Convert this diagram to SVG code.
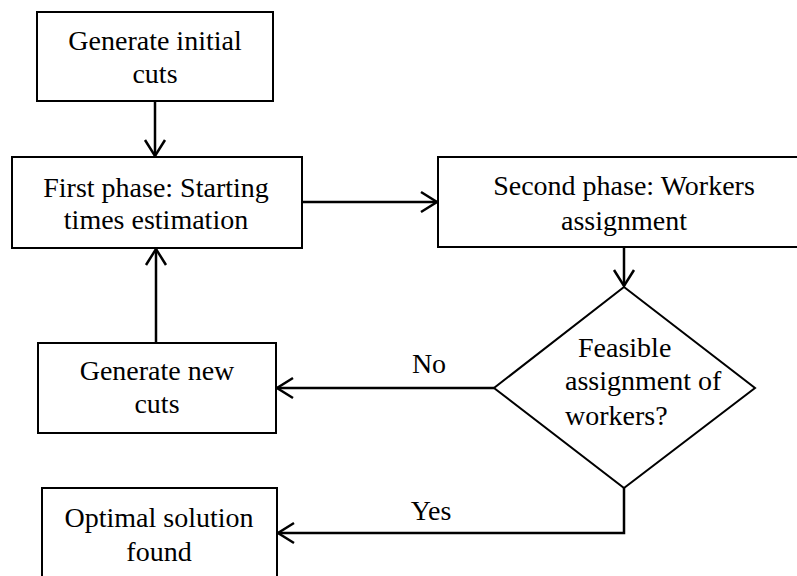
<svg xmlns="http://www.w3.org/2000/svg" width="797" height="576" viewBox="0 0 797 576">
<defs>
<marker id="arr" markerUnits="userSpaceOnUse" markerWidth="22" markerHeight="24" viewBox="0 0 22 24" refX="19" refY="12" orient="auto">
<path d="M3,2 L19,12 L3,22" fill="none" stroke="#000" stroke-width="2.5"/>
</marker>
</defs>
<rect width="797" height="576" fill="#fff"/>
<g id="connectors" fill="none" stroke="#000" stroke-width="2.5">
<line x1="155" y1="101" x2="155" y2="156" marker-end="url(#arr)"/>
<line x1="302" y1="202" x2="437" y2="202" marker-end="url(#arr)"/>
<line x1="624" y1="247" x2="624" y2="286" marker-end="url(#arr)"/>
<line x1="494" y1="388" x2="277" y2="388" marker-end="url(#arr)"/>
<polyline points="624,488 624,533 278,533" marker-end="url(#arr)"/>
<line x1="156" y1="343" x2="156" y2="249" marker-end="url(#arr)"/>
</g>
<g id="labels">
<text font-family="Liberation Serif" font-size="28" text-anchor="middle" x="429" y="373">No</text>
<text font-family="Liberation Serif" font-size="28" text-anchor="middle" x="431" y="520">Yes</text>
</g>
<g id="n1">
<rect x="37" y="12" width="236" height="89" fill="#fff" stroke="#000" stroke-width="2"/>
<text font-family="Liberation Serif" font-size="28" text-anchor="middle" x="155" y="50">Generate initial</text>
<text font-family="Liberation Serif" font-size="28" text-anchor="middle" x="155" y="83">cuts</text>
</g>
<g id="n2">
<rect x="12" y="157" width="290" height="91" fill="#fff" stroke="#000" stroke-width="2"/>
<text font-family="Liberation Serif" font-size="28" text-anchor="middle" x="156" y="197">First phase: Starting</text>
<text font-family="Liberation Serif" font-size="28" text-anchor="middle" x="156" y="229">times estimation</text>
</g>
<g id="n3">
<rect x="438" y="157" width="372" height="90" fill="#fff" stroke="#000" stroke-width="2"/>
<text font-family="Liberation Serif" font-size="28" text-anchor="middle" x="624" y="195">Second phase: Workers</text>
<text font-family="Liberation Serif" font-size="28" text-anchor="middle" x="624" y="230">assignment</text>
</g>
<g id="n4">
<polygon points="624,287 755,388 624,488 494,388" fill="#fff" stroke="#000" stroke-width="2"/>
<text font-family="Liberation Serif" font-size="28" x="578" y="357">Feasible</text>
<text font-family="Liberation Serif" font-size="28" x="565" y="390">assignment of</text>
<text font-family="Liberation Serif" font-size="28" x="565" y="425">workers?</text>
</g>
<g id="n5">
<rect x="38" y="343" width="238" height="90" fill="#fff" stroke="#000" stroke-width="2"/>
<text font-family="Liberation Serif" font-size="28" text-anchor="middle" x="157" y="380">Generate new</text>
<text font-family="Liberation Serif" font-size="28" text-anchor="middle" x="157" y="413">cuts</text>
</g>
<g id="n6">
<rect x="42" y="488" width="235" height="100" fill="#fff" stroke="#000" stroke-width="2"/>
<text font-family="Liberation Serif" font-size="28" text-anchor="middle" x="159" y="527">Optimal solution</text>
<text font-family="Liberation Serif" font-size="28" text-anchor="middle" x="159" y="561">found</text>
</g>
</svg>
